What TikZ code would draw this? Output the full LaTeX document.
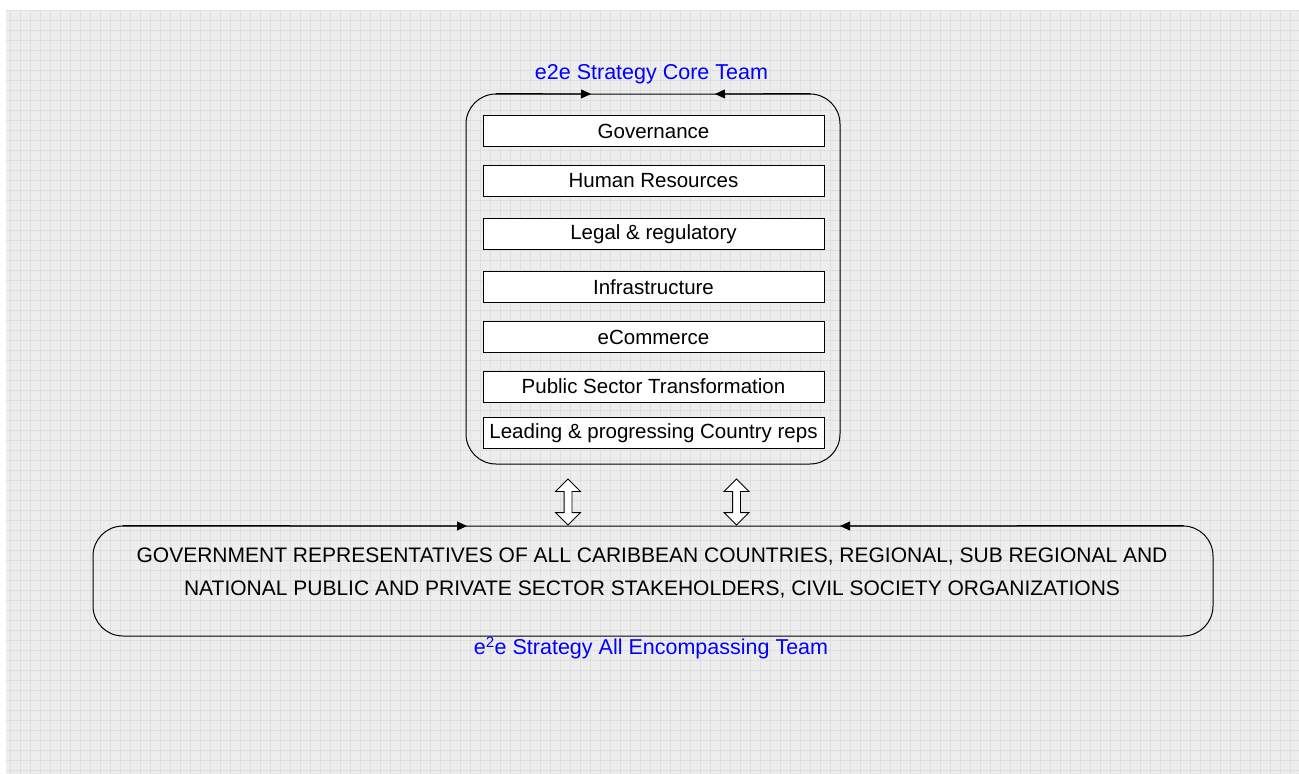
\documentclass[tikz,border=0pt]{standalone}
\usepackage{fontspec}
\setmainfont{Liberation Sans}
\usetikzlibrary{arrows.meta,shapes.arrows}
\tikzset{
>={Triangle[length=10pt,width=9pt]},
voce/.style={draw,fill=white,line width=0.8pt,minimum width=341pt,minimum height=31pt,inner sep=0pt,font=\fontsize{20.5}{24}\selectfont},
riquadro/.style={draw,line width=1pt,rounded corners=30pt,inner sep=0pt},
freccia/.style={->,line width=1pt},
doppia/.style={double arrow,draw,fill=white,line width=0.8pt,rotate=90,minimum height=46pt,inner xsep=0pt,inner ysep=3.5pt,double arrow head extend=8.5pt},
etichetta/.style={text=blue,font=\fontsize{21.5}{25}\selectfont}}

\begin{document}
\begin{tikzpicture}[x=1pt,y=-1pt]
\useasboundingbox (0,0) rectangle (1299,774);

% sfondo a griglia
\fill[gray!14] (6,10) rectangle (1299,774);
\draw[gray!25,step=10pt] (6,10) grid (1299,774);

\node[riquadro,minimum width=374pt,minimum height=370pt] (core) at (653,279) {};

\node[voce] (1) at (653.5,131) {Governance};
\node[voce] (2) at (653.5,180.5) {Human Resources};
\node[voce] (3) at (653.5,234) {Legal \& regulatory};
\node[voce] (4) at (653.5,287) {Infrastructure};
\node[voce] (5) at (653.5,337) {eCommerce};
\node[voce] (6) at (653.5,386.5) {Public Sector Transformation};
\node[voce] (7) at (653.5,433) {Leading \& progressing Country reps};

\node[etichetta] (t1) at (651.5,74) {e2e Strategy Core Team};

\coordinate (c1) at (591,94);
\coordinate (c2) at (715,94);
\draw[freccia] ([xshift=30pt]core.north west) -- (c1);
\draw[freccia] ([xshift=-30pt]core.north east) -- (c2);

\node[doppia] (d1) at (568,502) {};
\node[doppia] (d2) at (736.5,502) {};

\node[riquadro,minimum width=1120pt,minimum height=110pt] (all) at (653,581) {};
\node[align=center,font=\fontsize{21}{33}\selectfont] (gruppi) at (652,573.5)
  {GOVERNMENT REPRESENTATIVES OF ALL CARIBBEAN COUNTRIES, REGIONAL, SUB REGIONAL AND\\
   NATIONAL PUBLIC AND PRIVATE SECTOR STAKEHOLDERS, CIVIL SOCIETY ORGANIZATIONS};

\coordinate (a1) at (467,526);
\coordinate (a2) at (840,526);
\draw[freccia] ([xshift=30pt]all.north west) -- (a1);
\draw[freccia] ([xshift=-30pt]all.north east) -- (a2);

\node[etichetta] (t2) at (651,648) {e\textsuperscript{2}e Strategy All Encompassing Team};

\end{tikzpicture}
\end{document}
